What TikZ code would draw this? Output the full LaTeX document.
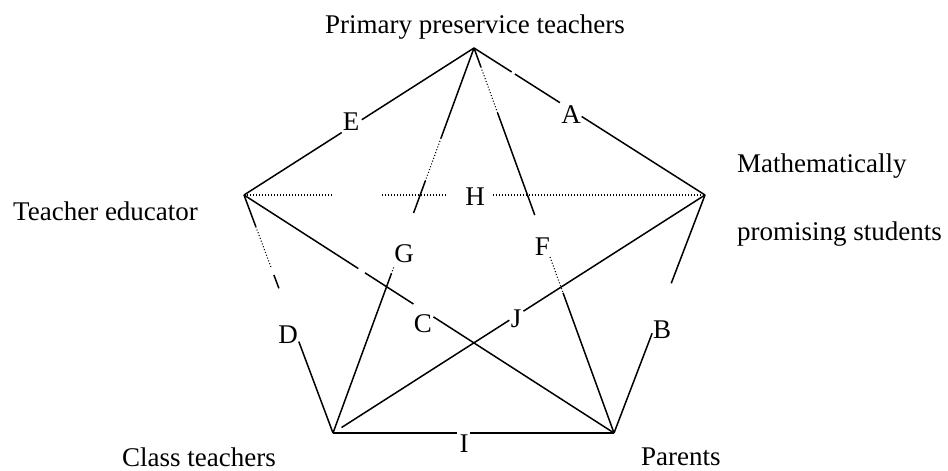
\documentclass[tikz,border=0pt]{standalone}
\usepackage{fontspec}
\setmainfont{Liberation Serif}
\usetikzlibrary{calc}
\tikzset{
  edge/.style={line width=1.5pt, black},
  dotline/.style={line width=1.1pt, black, dash pattern=on 1pt off 2pt},
  lbl/.style={inner sep=0pt, anchor=base, font=\fontsize{27}{32}\selectfont},
  side/.style={inner sep=0pt, anchor=base west, font=\fontsize{27}{32}\selectfont}
}
\newcommand\segm[5]{\draw[#1] ($(#2)!#4!(#3)$) -- ($(#2)!#5!(#3)$);}
\begin{document}
\begin{tikzpicture}[x=1pt,y=-1pt]
\useasboundingbox (0,0) rectangle (948,471);
% vertices
\coordinate (T) at (474,48);
\coordinate (L) at (244,195);
\coordinate (R) at (705,195);
\coordinate (BL) at (333,433);
\coordinate (BR) at (614,433);
% vertex labels
\node[lbl] (ppt) at (475,33) {Primary preservice teachers};
\node[side] (te) at (13,220) {Teacher educator};
\node[side] (ms1) at (737,172) {Mathematically};
\node[side] (ms2) at (737,240) {promising students};
\node[side] (ct) at (122,466) {Class teachers};
\node[side] (pa) at (641,465) {Parents};
% edge letters
\node[lbl] (E) at (351,130) {E};
\node[lbl] (A) at (571,123) {A};
\node[lbl] (H) at (475,205) {H};
\node[lbl] (G) at (404,262) {G};
\node[lbl] (F) at (542.5,255) {F};
\node[lbl] (C) at (423,332) {C};
\node[lbl] (D) at (288,343) {D};
\node[lbl] (J) at (516,327) {J};
\node[lbl] (B) at (662,338) {B};
\node[lbl] (I) at (464,452) {I};
% E: T--L
\segm{edge}{T}{L}{0}{0.488}
\segm{edge}{T}{L}{0.575}{1}
% A: T--R
\segm{edge}{T}{R}{0}{0.163}
\segm{edge}{T}{R}{0.177}{0.372}
\segm{edge}{T}{R}{0.466}{1}
% H: L--R
\segm{dotline}{L}{R}{0}{0.193}
\segm{dotline}{L}{R}{0.299}{0.436}
\segm{dotline}{L}{R}{0.540}{1}
% G: T--BL
\segm{edge}{T}{BL}{0}{0.234}
\segm{dotline}{T}{BL}{0.234}{0.345}
\segm{edge}{T}{BL}{0.345}{0.4286}
\segm{dotline}{T}{BL}{0.570}{0.585}
\segm{edge}{T}{BL}{0.585}{1}
% F: T--BR
\segm{edge}{T}{BR}{0}{0.049}
\segm{dotline}{T}{BR}{0.049}{0.169}
\segm{edge}{T}{BR}{0.169}{0.434}
\segm{dotline}{T}{BR}{0.543}{0.636}
\segm{edge}{T}{BR}{0.636}{1}
% B: R--BR
\segm{edge}{R}{BR}{0}{0.371}
\segm{edge}{R}{BR}{0.581}{1}
% D: L--BL
\segm{edge}{L}{BL}{0}{0.133}
\segm{dotline}{L}{BL}{0.133}{0.308}
\segm{edge}{L}{BL}{0.336}{0.392}
\segm{edge}{L}{BL}{0.616}{1}
% C: L--BR
\segm{edge}{L}{BR}{0}{0.309}
\segm{edge}{L}{BR}{0.327}{0.458}
\segm{edge}{L}{BR}{0.512}{1}
% J: BL--R
\segm{edge}{BL}{R}{0.023}{0.474}
\segm{edge}{BL}{R}{0.512}{1}
% I: BL--BR
\segm{edge}{BL}{BR}{0}{0.440}
\segm{edge}{BL}{BR}{0.488}{1}
\end{tikzpicture}
\end{document}
